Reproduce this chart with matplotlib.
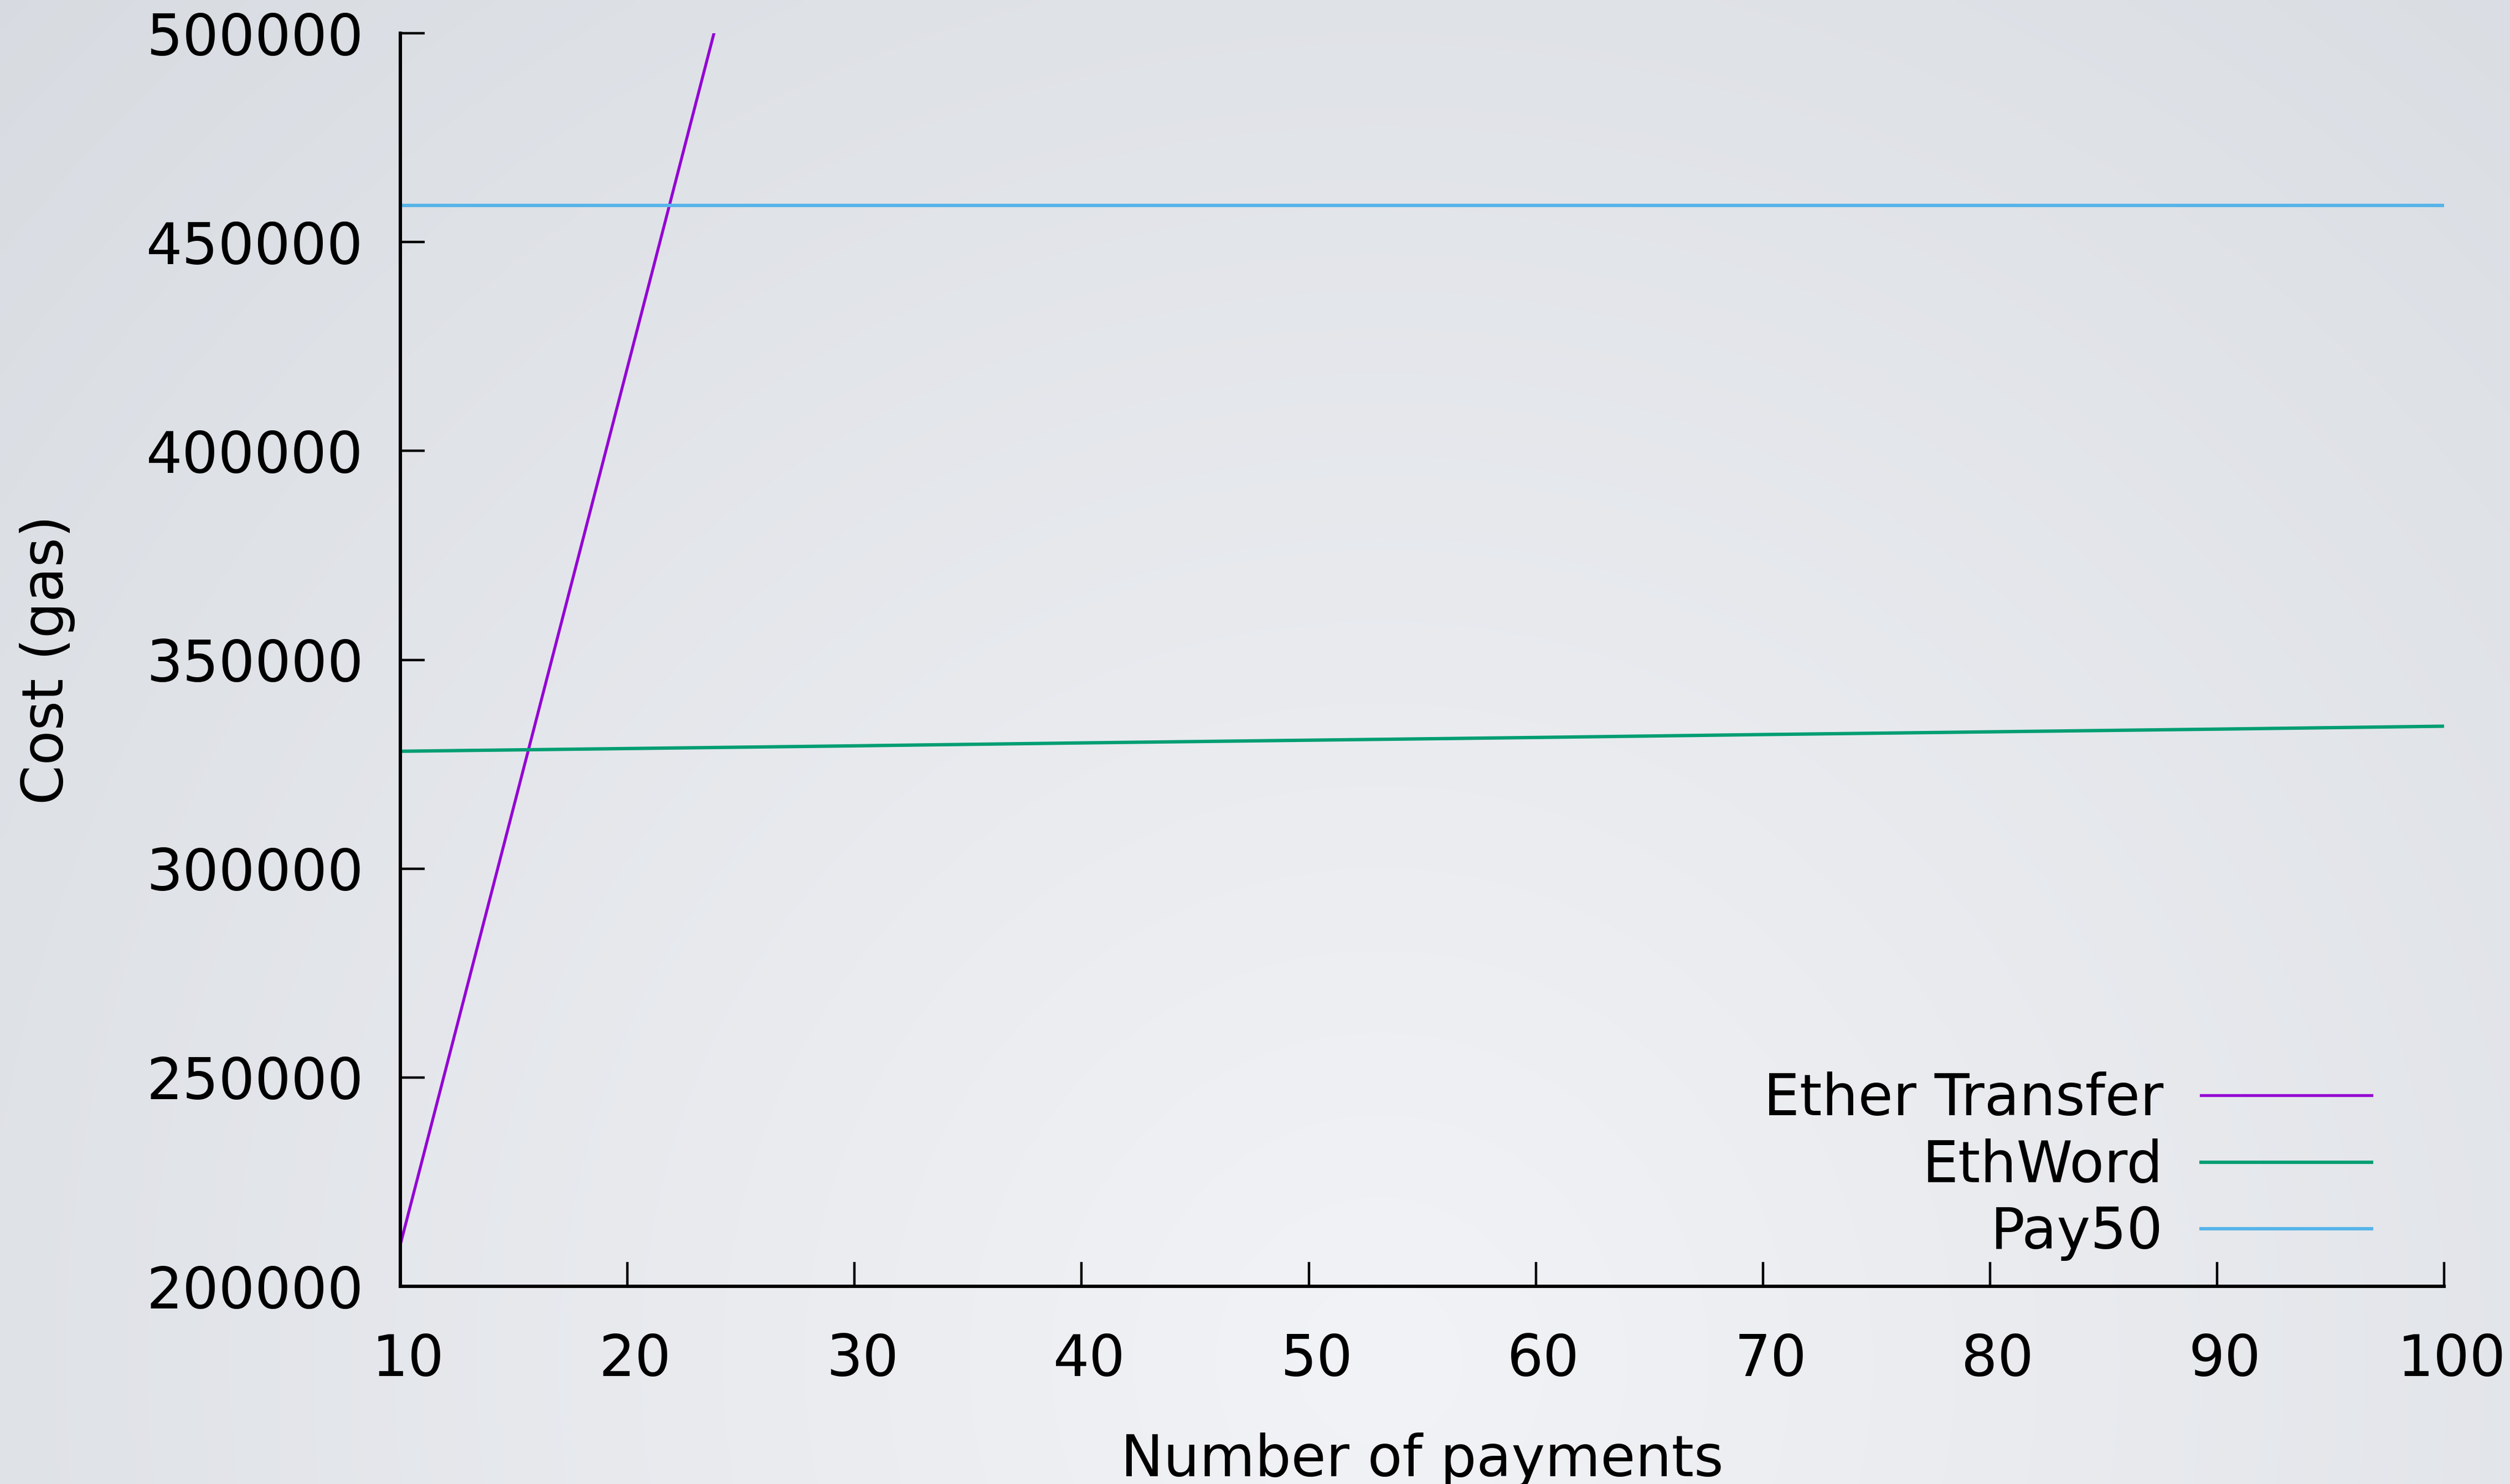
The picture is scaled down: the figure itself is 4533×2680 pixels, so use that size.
import numpy as np
import matplotlib
matplotlib.use('Agg')
import matplotlib.pyplot as plt
from matplotlib.transforms import ScaledTranslation

# data
payments = [10, 20, 30]
etherTransfer = [210000, 420000, 630000]
ethWordX = [10, 20, 30, 40, 50, 60, 70, 80, 90, 100]
ethWord = [328100, 328750, 329400, 330100, 330750, 331400, 332100, 332750, 333400, 334100]
pay50X = [10, 100]
pay50 = [458800, 458800]
xTicks = [10, 20, 30, 40, 50, 60, 70, 80, 90, 100]
yTicks = [200000, 250000, 300000, 350000, 400000, 450000, 500000]

plt.rcParams['font.family'] = ['DejaVu Sans']
fs = 37

fig = plt.figure(figsize=(22.665, 13.4), dpi=200)

# soft radial grey background
bg = fig.add_axes([0, 0, 1, 1], zorder=-10)
gx, gy = np.meshgrid(np.linspace(0, 1, 400), np.linspace(0, 1, 240))
r = np.sqrt(((gx - 0.55) * 1.7) ** 2 + (gy - 0.92) ** 2)
t = np.clip(r / 1.45, 0, 1)[..., None]
light = np.array([242, 243, 246]) / 255
dark = np.array([213, 217, 223]) / 255
bg.imshow(light + (dark - light) * t, aspect='auto', extent=[0, 1, 1, 0], interpolation='bilinear')
bg.axis('off')

ax = fig.add_axes([0.1595, 0.1332, 0.8143, 0.8444])
ax.patch.set_alpha(0)

ax.plot(payments, etherTransfer, c='#9400D3', lw=1.9, label='Ether Transfer')
ax.plot(ethWordX, ethWord, c='#009E73', lw=2.2, label='EthWord')
ax.plot(pay50X, pay50, c='#56B4E9', lw=2.2, label='Pay50')

ax.set_xlim(10, 100)
ax.set_ylim(200000, 500000)
ax.set_xticks(xTicks)
ax.set_yticks(yTicks)

for s in ['top', 'right']:
    ax.spines[s].set_visible(False)
for s in ['left', 'bottom']:
    ax.spines[s].set_linewidth(2.2)

ax.tick_params(axis='both', direction='in', length=16, width=1.6, labelsize=fs)
ax.tick_params(axis='x', pad=30)
ax.tick_params(axis='y', pad=24)

# x labels sit a little right of their ticks in the original
shift = ScaledTranslation(5 / 72, 0, fig.dpi_scale_trans)
for lab in ax.get_xticklabels():
    lab.set_transform(lab.get_transform() + shift)

ax.set_xlabel('Number of payments', fontsize=fs)
ax.set_ylabel('Cost (gas)', fontsize=fs)
ax.xaxis.set_label_coords(0.5, -0.1168)
ax.yaxis.set_label_coords(-0.159, 0.5)

ax.legend(loc='lower right', bbox_to_anchor=(0.9645, 0.0203), frameon=False,
          markerfirst=False, fontsize=fs, handlelength=3.0, handletextpad=0.66,
          labelspacing=0.19, borderpad=0, borderaxespad=0)

fig.savefig('out.png', dpi=200)
